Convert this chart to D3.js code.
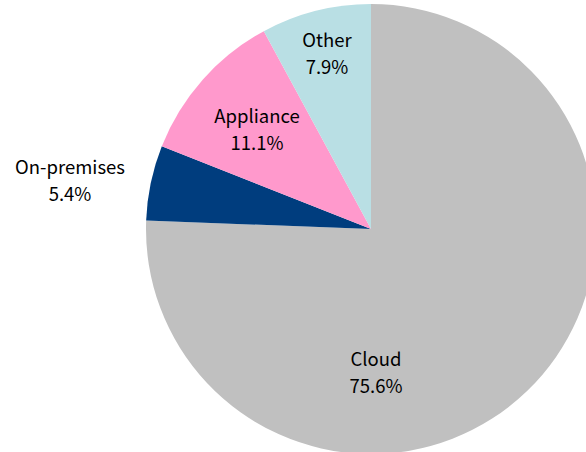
<!DOCTYPE html>
<meta charset="utf-8">
<style>
  body { margin: 0; background: #fff; }
  text { font-family: "Noto Sans CJK JP", "Noto Sans", sans-serif; font-size: 18.5px; fill: #000; }
</style>
<body>
<script src="https://d3js.org/d3.v7.min.js"></script>
<script>

var categories = ["Cloud", "On-premises", "Appliance", "Other"];
var values = [75.6, 5.4, 11.1, 7.9];
var colors = ["#c0c0c0", "#003d7e", "#ff99cc", "#b9dfe4"];

// label anchors relative to the pie centre (Excel "best fit" placement)
var labelPos = {
  "Cloud": [5, 144],
  "On-premises": [-301, -48],
  "Appliance": [-114, -99],
  "Other": [-44, -175]
};

var width = 586,
    height = 452,
    cx = 371,
    cy = 229,
    radius = 225;

var svg = d3.select("body").append("svg")
    .attr("width", width)
    .attr("height", height);

var pie = d3.pie().sort(null).value(function(d) { return d.value; });
var arc = d3.arc().innerRadius(0).outerRadius(radius);

var data = categories.map(function(c, i) { return { name: c, value: values[i], color: colors[i] }; });

var g = svg.append("g").attr("transform", "translate(" + cx + "," + cy + ")");

g.selectAll("path")
    .data(pie(data))
  .enter().append("path")
    .attr("d", arc)
    .attr("fill", function(d) { return d.data.color; });

var labels = g.selectAll("text.label")
    .data(pie(data))
  .enter().append("text")
    .attr("class", "label")
    .attr("text-anchor", "middle")
    .attr("transform", function(d) { return "translate(" + labelPos[d.data.name] + ")"; });

labels.append("tspan")
    .attr("x", 0)
    .attr("y", -7)
    .text(function(d) { return d.data.name; });

labels.append("tspan")
    .attr("x", 0)
    .attr("y", 20)
    .text(function(d) { return d.data.value.toFixed(1) + "%"; });

</script>
</body>
